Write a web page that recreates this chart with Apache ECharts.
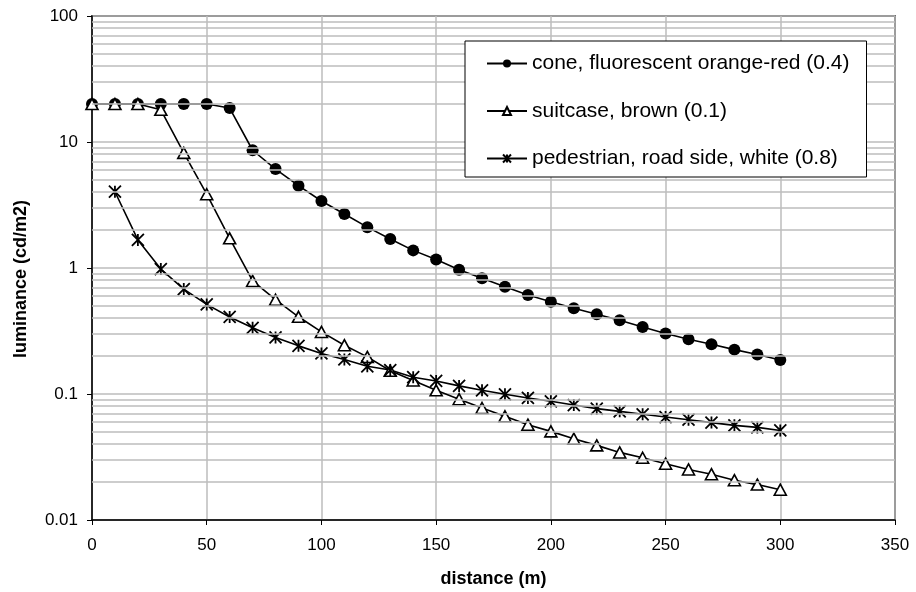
<!DOCTYPE html>
<html>
<head>
<meta charset="utf-8">
<script src="https://cdn.jsdelivr.net/npm/echarts@6/dist/echarts.min.js"></script>
<style>html,body{margin:0;padding:0;background:#fff;}#c{width:916px;height:592px;}</style>
</head>
<body>
<div id="c"></div>
<script>
var distances = [0,10,20,30,40,50,60,70,80,90,100,110,120,130,140,150,160,170,180,190,200,210,220,230,240,250,260,270,280,290,300];
var seriesNames = ['cone, fluorescent orange-red (0.4)', 'suitcase, brown (0.1)', 'pedestrian, road side, white (0.8)'];
var coneValues = [20,20,20,20,20,20,18.6,8.6,6.1,4.5,3.4,2.68,2.11,1.70,1.38,1.17,0.97,0.83,0.71,0.61,0.54,0.48,0.43,0.385,0.34,0.302,0.272,0.248,0.225,0.206,0.186];
var suitcaseValues = [20,20,20,18.0,8.2,3.85,1.72,0.79,0.56,0.41,0.311,0.244,0.197,0.153,0.128,0.107,0.091,0.0774,0.0665,0.0571,0.0505,0.0442,0.0391,0.0344,0.0312,0.0280,0.0252,0.0231,0.0207,0.0191,0.0174];
var pedestrianValues = [null,4.03,1.67,0.98,0.68,0.514,0.409,0.335,0.281,0.241,0.210,0.188,0.166,0.155,0.136,0.127,0.116,0.107,0.0995,0.093,0.0875,0.0817,0.0765,0.0728,0.069,0.0656,0.0625,0.0593,0.0564,0.0543,0.0514];
var xTicks = [0,50,100,150,200,250,300,350];
var yTicks = [0.01,0.1,1,10,100];
var minorMultipliers = [2,3,4,5,6,7,8,9];

function pairs(vals){
  var out = [];
  for (var i = 0; i < distances.length; i++) {
    if (vals[i] != null) out.push([distances[i], vals[i]]);
  }
  return out;
}
var minorLines = [];
for (var d = 0; d < yTicks.length - 1; d++) {
  for (var m = 0; m < minorMultipliers.length; m++) {
    minorLines.push({ yAxis: +(yTicks[d] * minorMultipliers[m]).toPrecision(3) });
  }
}
var asterisk = 'path://M0,0L10,10M10,0L0,10M5,0L5,10';
var gridColor = '#bdbdbd';
var chart = echarts.init(document.getElementById('c'), null, { renderer: 'canvas' });
chart.setOption({
  animation: false,
  backgroundColor: '#fff',
  textStyle: { fontFamily: 'Liberation Sans' },
  grid: { left: 92, right: 21, top: 16, bottom: 72, outerBoundsMode: 'none', containLabel: false,
          show: true, borderColor: '#000', borderWidth: 1.5, backgroundColor: 'transparent' },
  legend: {
    data: seriesNames,
    orient: 'vertical',
    left: 465, top: 41,
    zlevel: 1, z: 10,
    padding: [12, 17, 8, 21],
    itemGap: 26.5,
    itemWidth: 40, itemHeight: 10,
    backgroundColor: '#fff',
    borderColor: '#000', borderWidth: 1,
    borderRadius: 0,
    textStyle: { fontFamily: 'Liberation Sans', fontSize: 21, color: '#000' }
  },
  xAxis: {
    type: 'value', min: 0, max: 350, interval: 50,
    name: 'distance (m)', nameLocation: 'middle', nameGap: 50,
    nameTextStyle: { fontFamily: 'Liberation Sans', fontSize: 18, fontWeight: 'bold', color: '#000' },
    axisLine: { show: true, lineStyle: { color: '#000', width: 1.5 } },
    axisTick: { show: true, inside: false, length: 5, lineStyle: { color: '#000', width: 1 } },
    axisLabel: { fontFamily: 'Liberation Sans', fontSize: 17, color: '#000', margin: 17, hideOverlap: false },
    splitLine: { show: true, lineStyle: { color: gridColor, width: 1.5 } }
  },
  yAxis: {
    type: 'log', logBase: 10, min: 0.01, max: 100,
    name: 'luminance (cd/m2)', nameLocation: 'middle', nameGap: 62,
    nameTextStyle: { fontFamily: 'Liberation Sans', fontSize: 18, fontWeight: 'bold', color: '#000', padding: [0, 22, 0, 0] },
    axisLine: { show: true, lineStyle: { color: '#000', width: 1.5 } },
    axisTick: { show: true, inside: false, length: 5, lineStyle: { color: '#000', width: 1 } },
    axisLabel: { fontFamily: 'Liberation Sans', fontSize: 17, color: '#000', margin: 14,
      formatter: function(v){ for (var i=0;i<yTicks.length;i++){ if (Math.abs(v/yTicks[i]-1)<1e-6) return String(yTicks[i]); } return ''; } },
    splitLine: { show: true, lineStyle: { color: gridColor, width: 1.5 } }
  },
  series: [
    {
      type: 'line', data: [], z: 1, silent: true,
      markLine: {
        silent: true, symbol: 'none', animation: false,
        label: { show: false },
        lineStyle: { color: gridColor, width: 1.5, type: 'solid' },
        emphasis: { disabled: true },
        data: minorLines
      }
    },
    {
      name: seriesNames[0], type: 'line', z: 3, data: pairs(coneValues),
      symbol: 'circle', symbolSize: 12,
      lineStyle: { color: '#000', width: 1.6 },
      itemStyle: { color: '#000', borderColor: '#000', borderWidth: 0 }
    },
    {
      name: seriesNames[1], type: 'line', z: 3, data: pairs(suitcaseValues),
      symbol: 'triangle', symbolSize: [12, 11],
      lineStyle: { color: '#000', width: 1.6 },
      itemStyle: { color: '#fff', borderColor: '#000', borderWidth: 1.6 }
    },
    {
      name: seriesNames[2], type: 'line', z: 3, data: pairs(pedestrianValues),
      symbol: asterisk, symbolSize: 12,
      lineStyle: { color: '#000', width: 1.6 },
      itemStyle: { color: '#000', borderColor: '#000', borderWidth: 1.8 }
    }
  ]
});
</script>
</body>
</html>
